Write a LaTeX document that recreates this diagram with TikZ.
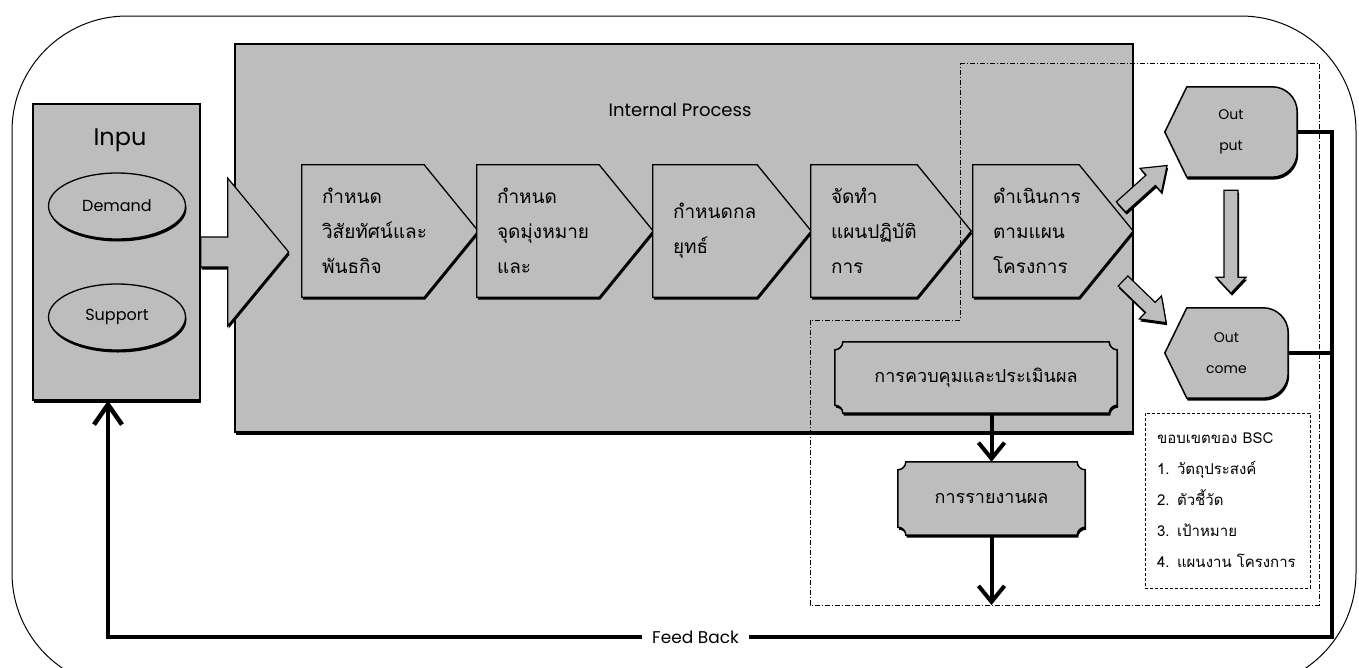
\documentclass[tikz,border=0pt]{standalone}
\usepackage{fontspec}
\setmainfont{Poppins}
\newfontfamily\thaifont[Script=Thai]{Loma}
\usetikzlibrary{shapes.geometric,shadows,arrows.meta}

\pgfdeclarelayer{back}
\pgfdeclarelayer{mid}
\pgfsetlayers{back,mid,main}

\newcommand{\chevron}[1]{%
  \filldraw[stepline] (#1.north west) -- (#1.north east) -- ([xshift=54pt]#1.east)
    -- (#1.south east) -- (#1.south west) -- cycle;}

\newcommand{\plaque}[1]{%
  \filldraw[plaqueline]
    ([yshift=-8pt]#1.north west) arc[start angle=-90,end angle=0,radius=8pt]
    -- ([xshift=-8pt]#1.north east) arc[start angle=180,end angle=270,radius=8pt]
    -- ([yshift=8pt]#1.south east) arc[start angle=90,end angle=180,radius=8pt]
    -- ([xshift=8pt]#1.south west) arc[start angle=0,end angle=90,radius=8pt]
    -- cycle;}

\newcommand{\dispshape}[1]{%
  \filldraw[displine]
    ([xshift=22pt]#1.north west) -- ([xshift=-25pt]#1.north east)
    arc[start angle=90,end angle=0,radius=25pt]
    -- ([yshift=25pt]#1.south east)
    arc[start angle=0,end angle=-90,radius=25pt]
    -- ([xshift=22pt]#1.south west) -- (#1.west) -- cycle;}

\newcommand{\blockarrow}[6]{%
  \filldraw[bigarrow, shift={#1}, rotate=#2]
    (0,-#5) -- (#3-#4,-#5) -- (#3-#4,-#6) -- (#3,0) -- (#3-#4,#6) -- (#3-#4,#5) -- (0,#5) -- cycle;}

\begin{document}
\begin{tikzpicture}[x=1pt, y=1pt,
  shadowed/.style={drop shadow={shadow xshift=1pt, shadow yshift=-2.5pt, fill=black, opacity=1}},
  grayfill/.style={draw=black, line width=1.3pt, fill=black!26, shadowed},
  areabox/.style={grayfill, rectangle},
  titletext/.style={inner sep=0pt},
  oval/.style={grayfill, ellipse, minimum width=137pt, minimum height=66pt, font=\fontsize{16}{18}\selectfont},
  stepbox/.style={rectangle, minimum height=132pt, inner sep=0pt, align=left, font=\thaifont\fontsize{19}{35}\selectfont},
  stepline/.style={grayfill},
  plaquebox/.style={rectangle, inner sep=0pt, font=\thaifont\fontsize{18}{22}\selectfont},
  plaqueline/.style={grayfill, line width=1.5pt},
  dispbox/.style={rectangle, minimum height=90pt, inner sep=0pt, align=center, font=\fontsize{14}{31}\selectfont},
  displine/.style={grayfill, line width=1.5pt},
  bigarrow/.style={grayfill, line width=1.2pt},
  flowline/.style={line width=4pt, -{Straight Barb[length=16pt, width=26pt]}},
  feedback/.style={line width=4.5pt},
  scopeline/.style={line width=0.9pt, dash pattern=on 5pt off 2pt on 1pt off 2pt},
  frameline/.style={line width=1pt, rounded corners=115pt},
  bscbox/.style={draw, line width=0.9pt, densely dashed, minimum width=165pt, minimum height=175pt,
    text width=141pt, align=left, inner sep=0pt, font=\thaifont\fontsize{15}{31}\selectfont}]

 \useasboundingbox (0,0) rectangle (1359,-667);

 \begin{pgfonlayer}{back}
 \draw[frameline] (12,-16) rectangle (1356,-688);
 \node[areabox, minimum width=898pt, minimum height=388pt] (internal) at (684,-238) {};
 \node[areabox, minimum width=167pt, minimum height=296pt] (input_box) at (116.5,-252) {};
 \end{pgfonlayer}

 \node[titletext, font=\fontsize{24}{28}\selectfont] (input_title) at (120,-140) {Inpu};
 \node[titletext, font=\fontsize{18}{21}\selectfont] (internal_title) at (680,-110) {Internal Process};

 \node[oval] (demand) at (117,-206) {Demand};
 \node[oval] (support) at (117,-317) {Support};


 \node[stepbox, minimum width=122pt, text width=82pt] (step_1) at (363,-231)
     {กำหนด\\วิสัยทัศน์และ\\พันธกิจ};
 \node[stepbox, minimum width=122pt, text width=82pt] (step_2) at (538,-231)
     {กำหนด\\จุดมุ่งหมาย\\และ};
 \node[stepbox, minimum width=104pt, text width=64pt] (step_3) at (705,-231)
     {กำหนดกล\\ยุทธ์};
 \node[stepbox, minimum width=106pt, text width=66pt] (step_4) at (864,-231)
     {จัดทำ\\แผนปฏิบัติ\\การ};
 \node[stepbox, minimum width=106pt, text width=66pt] (step_5) at (1026,-231)
     {ดำเนินการ\\ตามแผน\\โครงการ};

 \node[dispbox, minimum width=132pt] (output) at (1231,-132) {Out\\put};
 \node[dispbox, minimum width=123pt] (outcome) at (1226.5,-353) {Out\\come};

 \node[plaquebox, minimum width=282pt, minimum height=71pt] (control) at (976,-377.5)
     {การควบคุมและประเมินผล};
 \node[plaquebox, minimum width=187pt, minimum height=73pt] (report) at (991.5,-498.5)
     {การรายงานผล};

 \node[bscbox] (bsc_box) at (1227.5,-500.5)
     {ขอบเขตของ BSC\\1. วัตถุประสงค์\\2. ตัวชี้วัด\\3. เป้าหมาย\\4. แผนงาน โครงการ};

 \begin{pgfonlayer}{mid}
 \foreach \s in {1,...,5} {\chevron{step_\s}}
 \plaque{control}
 \plaque{report}
 \dispshape{output}
 \dispshape{outcome}
 \end{pgfonlayer}


 \blockarrow{(input_box.east)}{0}{88}{61}{15}{74}
 \blockarrow{(1121,-207)}{42}{62}{22}{7}{16}
 \blockarrow{(1123,-281)}{-44}{60}{22}{7}{16}
 \blockarrow{([yshift=-13pt]output.south)}{-90}{103}{16}{7}{15}

 \draw[scopeline] (960,-63) -- (1319,-63) -- (1319,-605) -- (810,-605) -- (810,-320) -- (960,-320) -- cycle;

 \coordinate (scope_end) at (991.5,-605);
 \coordinate (fb_right) at (1332,-637);
 \coordinate (fb_left) at (108,-637);

 \draw[flowline] (control.south -| report.north) -- (report.north);
 \draw[flowline] (report.south) -- (scope_end);

 \draw[feedback, -{Straight Barb[length=20pt, width=28pt]}] (output.east) -| (fb_right)
     -- node[pos=0.52, fill=white, inner xsep=10pt, inner ysep=2pt, font=\fontsize{17}{20}\selectfont] (fb_label) {Feed Back}
     (fb_left) -- (fb_left |- input_box.south);
 \draw[feedback] (outcome.east) -- (outcome.east -| fb_right);

\end{tikzpicture}
\end{document}
